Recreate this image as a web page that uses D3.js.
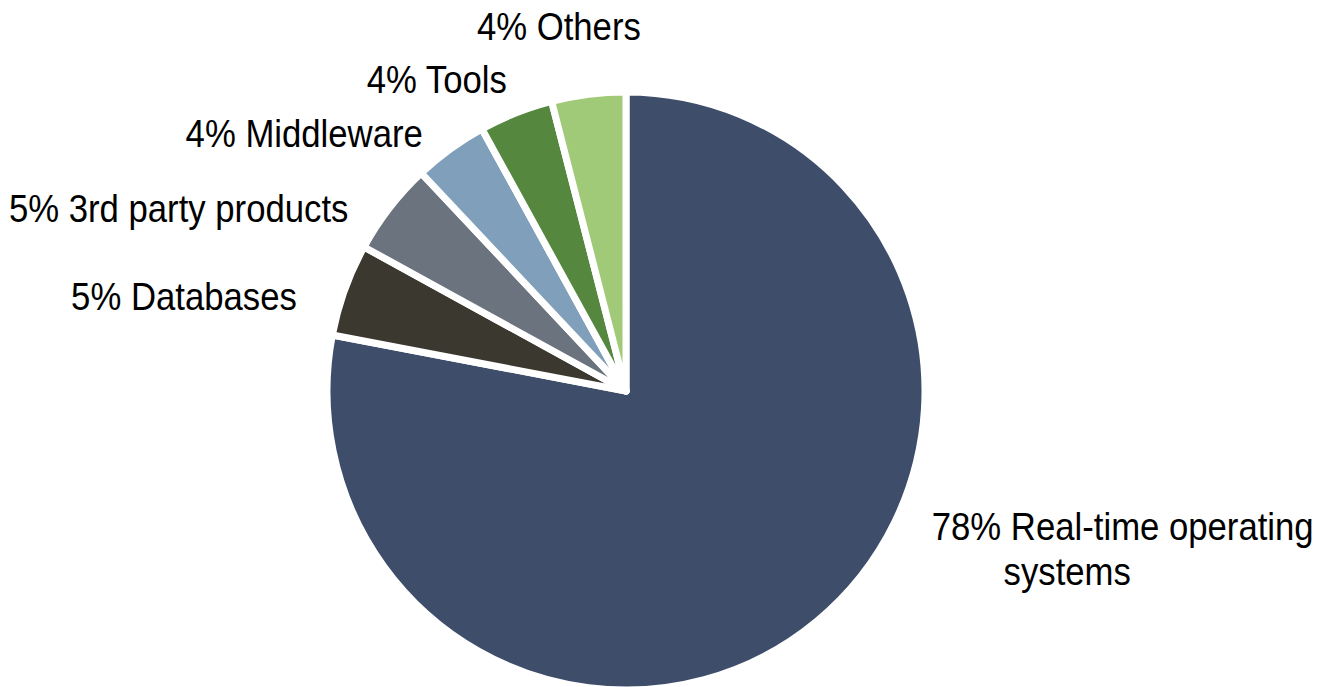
<!DOCTYPE html>
<html>
<head>
<meta charset="utf-8">
<script src="https://cdn.jsdelivr.net/npm/d3@7/dist/d3.min.js"></script>
<style>
  html, body { margin: 0; padding: 0; background: #ffffff; }
  svg { display: block; }
  .label { font-family: "Liberation Sans", Arial, sans-serif; font-size: 39px; fill: #000; }
</style>
</head>
<body>
<svg id="chart" width="1317" height="687"></svg>
<script>
// Share of embedded software spend by segment (percent)
const categories = [
  "Real-time operating systems",
  "Databases",
  "3rd party products",
  "Middleware",
  "Tools",
  "Others"
];
const shares = [78, 5, 5, 4, 4, 4];
const sliceColors = ["#3d4d6a", "#3b3830", "#6b737e", "#7f9fba", "#55873e", "#a0ca77"];

// Label placement around the rim: angular shift (degrees) and extra distance beyond the rim,
// spreading the small slices' labels apart and lifting the large slice's label.
const labelAngleShift = [-32.1, -5.2, -9.4, -10.4, -7.7, -2.2];
const labelRadiusExtra = [96, 48, 57, 49, 35, 49];

const width = 1317, height = 687;
const cx = 626, cy = 391, radius = 299;
const textScaleX = 0.89;     // condensed lettering
const wrapWidth = 400;       // longest label line before wrapping

const data = categories.map((c, i) => ({ name: c, value: shares[i], color: sliceColors[i], i }));

const svg = d3.select("#chart");
const g = svg.append("g").attr("transform", `translate(${cx},${cy})`);

const pie = d3.pie().value(d => d.value).sort(null).startAngle(0).endAngle(2 * Math.PI);
const arc = d3.arc().innerRadius(0).outerRadius(radius);
const arcs = pie(data);

g.selectAll("path.slice")
  .data(arcs)
  .join("path")
  .attr("class", "slice")
  .attr("d", arc)
  .attr("fill", d => d.data.color)
  .attr("stroke", "#ffffff")
  .attr("stroke-width", 7)
  .attr("stroke-linejoin", "round");

// Labels: "NN% Name", wrapped onto a second line when too wide
const labels = svg.append("g");
arcs.forEach(a => {
  const d = a.data;
  const mid = (a.startAngle + a.endAngle) / 2;
  const text = labels.append("text").attr("class", "label");
  const words = `${d.value}% ${d.name}`.split(" ");
  const lines = [];
  let line = [];
  const probe = text.append("tspan").attr("x", 0);
  words.forEach(w => {
    const trial = line.concat([w]).join(" ");
    probe.text(trial);
    if (probe.node().getComputedTextLength() * textScaleX > wrapWidth && line.length) {
      lines.push(line.join(" "));
      line = [w];
    } else {
      line = line.concat([w]);
    }
  });
  lines.push(line.join(" "));
  probe.remove();
  lines.forEach((ln, k) => {
    text.append("tspan")
      .attr("x", 0)
      .attr("dx", k === 0 ? 0 : "2.07em")
      .attr("dy", k === 0 ? 0 : "1.15em")
      .text(ln);
  });

  const bb = text.node().getBBox();
  const w = bb.width * textScaleX, h = bb.height;
  // box corner/edge facing the pie touches the anchor point
  const fx = (1 - Math.sin(mid)) / 2;
  const fy = (1 + Math.cos(mid)) / 2;
  const ang = mid + labelAngleShift[d.i] * Math.PI / 180;
  const R = radius + labelRadiusExtra[d.i];
  const px = cx + R * Math.sin(ang);
  const py = cy - R * Math.cos(ang);
  const left = px - fx * w;
  const top = py - fy * h;
  text.attr("transform",
    `translate(${left - bb.x * textScaleX},${top - bb.y}) scale(${textScaleX},1)`);
});
</script>
</body>
</html>
